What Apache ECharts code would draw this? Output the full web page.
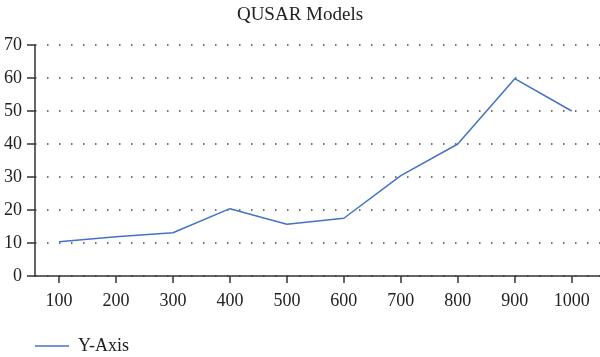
<!DOCTYPE html>
<html>
<head>
<meta charset="utf-8">
<script src="https://cdn.jsdelivr.net/npm/echarts@6/dist/echarts.min.js"></script>
<style>html,body{margin:0;padding:0;background:#fff}#c{width:600px;height:357px}</style>
</head>
<body>
<div id="c"></div>
<script>
const categories = [100, 200, 300, 400, 500, 600, 700, 800, 900, 1000];
const yValues = [10.4, 11.9, 13.1, 20.4, 15.7, 17.5, 30.4, 40, 59.8, 50];
const yTicks = [0, 10, 20, 30, 40, 50, 60, 70];
const seriesName = 'Y-Axis';
const titleText = 'QUSAR Models';

const font = 'Liberation Serif';
const chart = echarts.init(document.getElementById('c'), null, {renderer: 'canvas'});
chart.setOption({
  animation: false,
  backgroundColor: '#fff',
  title: {
    text: titleText, left: 'center', top: 1,
    textStyle: {fontFamily: font, fontSize: 19, fontWeight: 'normal', color: '#222'}
  },
  legend: {
    left: 30, top: 331,
    data: [{name: seriesName, icon: 'rect'}],
    itemWidth: 34, itemHeight: 1.5,
    textStyle: {fontFamily: font, fontSize: 18, color: '#222', padding: [0, 0, 0, 4], lineHeight: 20}
  },
  grid: {left: 35, right: 0, top: 45, bottom: 81, containLabel: false},
  xAxis: {
    type: 'value', min: 57.8, max: 1049.7,
    axisLine: {show: true, lineStyle: {color: '#333', width: 1.5}},
    axisTick: {show: true, length: 7, lineStyle: {color: '#333', width: 1.5}, customValues: categories},
    axisLabel: {fontFamily: font, fontSize: 18, color: '#222', margin: 16, customValues: categories,
      formatter: v => String(v)},
    splitLine: {show: false}
  },
  yAxis: {
    type: 'value', min: yTicks[0], max: yTicks[yTicks.length - 1], interval: 10,
    axisLine: {show: true, lineStyle: {color: '#333', width: 1.5}},
    axisTick: {show: true, length: 8, lineStyle: {color: '#333', width: 1.5}},
    axisLabel: {fontFamily: font, fontSize: 18, color: '#222', margin: 13},
    splitLine: {show: true, lineStyle: {color: '#444', width: 1.5, type: [1.5, 10.5]}}
  },
  series: [{
    name: seriesName, type: 'line',
    data: categories.map((c, i) => [c, yValues[i]]),
    showSymbol: false, symbol: 'none',
    lineStyle: {color: '#4472C4', width: 1.5},
    itemStyle: {color: '#4472C4'}
  }]
});
</script>
</body>
</html>
